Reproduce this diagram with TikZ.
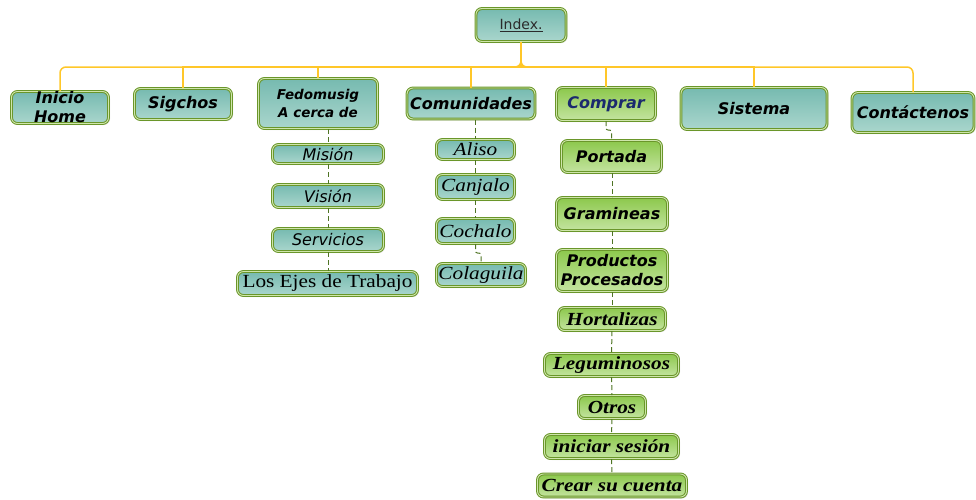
\documentclass[tikz,border=0pt]{standalone}
\usepackage{fontspec}
\usetikzlibrary{shadows}
\newfontfamily\boxsans{DejaVu Sans}
\newfontfamily\boxserif[FakeStretch=1.15]{Liberation Serif}
\newcommand\indexfont{\boxsans\fontsize{14}{17}\selectfont\color{indextext}}
\newcommand\heavyfont{\boxsans\bfseries\itshape\fontsize{16}{19}\selectfont}
\newcommand\smallheavyfont{\boxsans\bfseries\itshape\fontsize{13.5}{18}\selectfont}
\newcommand\lightsansfont{\boxsans\itshape\fontsize{16}{19}\selectfont}
\newcommand\romanfont{\boxserif\fontsize{18.5}{21}\selectfont}
\newcommand\romanitfont{\boxserif\itshape\fontsize{18.5}{21}\selectfont}
\newcommand\romanbifont{\boxserif\bfseries\itshape\fontsize{18.5}{21}\selectfont}
\definecolor{tealdark}{HTML}{76BAB0}
\definecolor{teallight}{HTML}{AAD6CD}
\definecolor{greendark}{HTML}{8CC84C}
\definecolor{greenlight}{HTML}{C4E4A0}
\definecolor{boxedge}{HTML}{6A962A}
\definecolor{boxlight}{HTML}{CFE6AC}
\definecolor{trunkyellow}{HTML}{FFC729}
\definecolor{leafgreen}{HTML}{4F7424}
\definecolor{indextext}{HTML}{2B2B2B}
\definecolor{buytext}{HTML}{1B2A6E}
\begin{document}
\begin{tikzpicture}[x=1pt,y=-1pt,
    menubox/.style={rounded corners=6pt,draw=boxedge,double=boxlight,double distance=0.9pt,
      line width=1pt,inner sep=0pt,align=center,
      drop shadow={opacity=0.2,shadow xshift=1.5pt,shadow yshift=-1.5pt}},
    tealbox/.style={menubox,top color=tealdark,bottom color=teallight},
    greenbox/.style={menubox,top color=greendark,bottom color=greenlight},
    trunk/.style={draw=trunkyellow,line width=1.5pt,rounded corners=6pt},
    leaf/.style={draw=leafgreen,line width=1pt,dash pattern=on 5pt off 3pt}]
  \useasboundingbox (0,0) rectangle (976,499);
  \draw
    (521,25) node[tealbox,minimum width=90,minimum height=33,font=\indexfont] (index){\underline{Index.}}
    (60,107.5) node[tealbox,minimum width=97,minimum height=32,font=\heavyfont] (inicio){Inicio\\Home}
    (183,104) node[tealbox,minimum width=97,minimum height=31,font=\heavyfont] (sigchos){Sigchos}
    (318,103.5) node[tealbox,minimum width=119,minimum height=50,font=\smallheavyfont] (fedomusig){Fedomusig\\A cerca de}
    (471,103.5) node[tealbox,minimum width=128,minimum height=31,font=\heavyfont] (comunidades){Comunidades}
    (606,104) node[greenbox,minimum width=99,minimum height=33,font=\heavyfont\color{buytext}] (comprar){Comprar}
    (754,108.5) node[tealbox,minimum width=146,minimum height=42,font=\heavyfont] (sistema){Sistema}
    (913,112.5) node[tealbox,minimum width=122,minimum height=40,font=\heavyfont] (contactenos){Contáctenos}
    (328,154) node[tealbox,minimum width=111,minimum height=19,font=\lightsansfont] (mision){Misión}
    (328,196) node[tealbox,minimum width=111,minimum height=23,font=\lightsansfont] (vision){Visión}
    (328,240) node[tealbox,minimum width=111,minimum height=23,font=\lightsansfont] (servicios){Servicios}
    (327.5,283.5) node[tealbox,minimum width=180,minimum height=24,font=\romanfont] (ejes){Los Ejes de Trabajo}
    (475.5,149.5) node[tealbox,minimum width=78,minimum height=20,font=\romanitfont] (aliso){Aliso}
    (475.5,187) node[tealbox,minimum width=78,minimum height=25,font=\romanitfont] (canjalo){Canjalo}
    (475.5,231) node[tealbox,minimum width=78,minimum height=25,font=\romanitfont] (cochalo){Cochalo}
    (481,275) node[tealbox,minimum width=89,minimum height=23,font=\romanitfont] (colaguila){Colaguila}
    (611.5,156.5) node[greenbox,minimum width=100,minimum height=32,font=\heavyfont] (portada){Portada}
    (612,214) node[greenbox,minimum width=111,minimum height=33,font=\heavyfont] (gramineas){Gramineas}
    (612,270.5) node[greenbox,minimum width=111,minimum height=42,font=\heavyfont] (productos){Productos\\Procesados}
    (612,319) node[greenbox,minimum width=107,minimum height=23,font=\romanbifont] (hortalizas){Hortalizas}
    (611.5,365) node[greenbox,minimum width=134,minimum height=23,font=\romanbifont] (leguminosos){Leguminosos}
    (612,407) node[greenbox,minimum width=67,minimum height=23,font=\romanbifont] (otros){Otros}
    (611.5,446.5) node[greenbox,minimum width=134,minimum height=24,font=\romanbifont] (sesion){iniciar sesión}
    (612,485.5) node[greenbox,minimum width=149,minimum height=23,font=\romanbifont] (cuenta){Crear su cuenta};
  \begin{scope}[trunk]
    \draw (index.south) -- ++(0,25) -| (inicio.north);
    \draw (index.south) -- ++(0,25) -| (contactenos.north);
    \draw[sharp corners] (index.south) -- ++(0,25) -| (sigchos.north);
    \draw[sharp corners] (index.south) -- ++(0,25) -| (fedomusig.north);
    \draw[sharp corners] (index.south) -- ++(0,25) -| (comunidades.north);
    \draw[sharp corners] (index.south) -- ++(0,25) -| (comprar.north);
    \draw[sharp corners] (index.south) -- ++(0,25) -| (sistema.north);
  \end{scope}
  \begin{scope}[leaf]
    \draw (mision.north |- fedomusig.south) -- (mision.north);
    \draw (mision) -- (vision);
    \draw (vision) -- (servicios);
    \draw (servicios.south) -- (servicios.south |- ejes.north);
    \draw (aliso.north |- comunidades.south) -- (aliso.north);
    \draw (aliso) -- (canjalo);
    \draw (canjalo) -- (cochalo);
    \draw[rounded corners=2pt] (cochalo.south) -- ++(0,9) -| (colaguila.north);
    \draw[rounded corners=2pt] (comprar.south) -- ++(0,9) -| (portada.north);
    \draw (portada.south -| gramineas.north) -- (gramineas.north);
    \draw (gramineas) -- (productos);
    \draw (productos) -- (hortalizas);
    \draw (hortalizas) -- (leguminosos);
    \draw (leguminosos) -- (otros);
    \draw (otros) -- (sesion);
    \draw (sesion) -- (cuenta);
  \end{scope}
\end{tikzpicture}
\end{document}
